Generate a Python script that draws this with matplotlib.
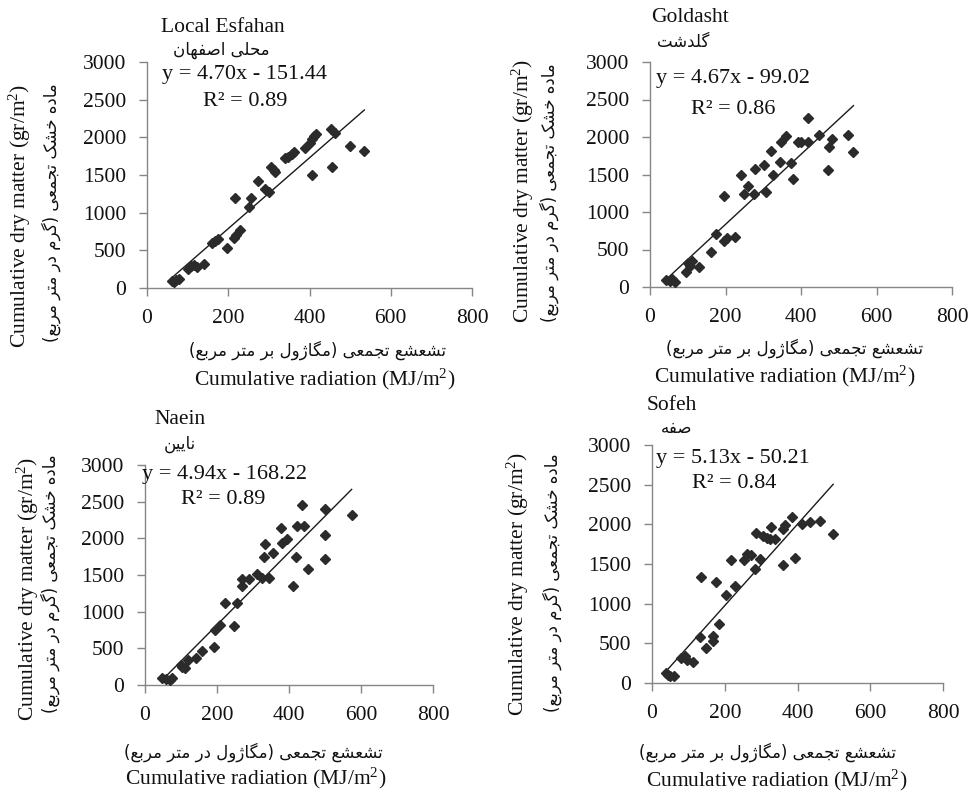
import matplotlib
matplotlib.use('Agg')
import matplotlib.pyplot as plt
import numpy as np

plt.rcParams['font.family'] = ['Liberation Serif', 'DejaVu Sans']
plt.rcParams['mathtext.fontset'] = 'custom'
plt.rcParams['mathtext.rm'] = 'Liberation Serif'
plt.rcParams['mathtext.it'] = 'Liberation Serif:italic'

# ---------------- data ----------------
titles_en = ["Local Esfahan", "Goldasht", "Naein", "Sofeh"]
titles_fa = ["محلی اصفهان", "گلدشت", "نایین", "صفه"]
ylabel_en = "Cumulative dry matter (gr/m$^{2}$)"
ylabel_fa = "ماده خشک تجمعی (گرم در متر مربع)"
xlabel_en = "Cumulative radiation (MJ/m$^{2}$)"
xlabel_fa = ["تشعشع تجمعی (مگاژول بر متر مربع)",
             "تشعشع تجمعی (مگاژول بر متر مربع)",
             "تشعشع تجمعی (مگاژول در متر مربع)",
             "تشعشع تجمعی (مگاژول بر متر مربع)"]

slopes = [4.70, 4.67, 4.94, 5.13]
intercepts = [-151.44, -99.02, -168.22, -50.21]
r2_values = [0.89, 0.86, 0.89, 0.84]

x_ticks = [0, 200, 400, 600, 800]
y_ticks = [0, 500, 1000, 1500, 2000, 2500, 3000]

x_esfahan = [62, 66, 72, 78, 100, 108, 115, 122, 140, 160, 168, 175, 196, 215, 220, 230,
             217, 250, 255, 272, 290, 300, 305, 312, 316, 340, 348, 356, 362, 390, 400,
             405, 410, 415, 405, 452, 462, 455, 500, 535]
y_esfahan = [90, 80, 105, 115, 250, 290, 300, 280, 325, 600, 620, 650, 530, 660, 700, 770,
             1200, 1080, 1200, 1420, 1310, 1280, 1610, 1570, 1540, 1720, 1740, 1780, 1800,
             1860, 1930, 1980, 2020, 2040, 1500, 2110, 2060, 1600, 1890, 1820]

x_goldasht = [42, 53, 66, 57, 95, 105, 112, 101, 130, 162, 175, 195, 204, 197, 224,
              241, 250, 259, 276, 277, 302, 307, 325, 320, 344, 347, 360, 373, 379, 393,
              399, 419, 418, 449, 474, 481, 472, 525, 539]
y_goldasht = [96, 79, 66, 110, 197, 285, 342, 316, 272, 461, 711, 614, 658, 1219, 671,
              1500, 1237, 1351, 1237, 1570, 1623, 1272, 1500, 1816, 1667, 1939, 2009, 1658,
              1439, 1930, 1930, 1930, 2259, 2026, 1864, 1974, 1557, 2026, 1798]

x_naein = [48, 59, 69, 74, 99, 104, 111, 120, 143, 159, 192, 194, 207, 222, 247, 256,
           269, 269, 289, 312, 326, 331, 333, 344, 356, 377, 380, 395, 412, 420, 423, 435,
           442, 453, 499, 499, 499, 574]
y_naein = [100, 86, 68, 100, 273, 241, 227, 341, 364, 468, 523, 750, 818, 1114, 809, 1123,
           1355, 1445, 1445, 1514, 1455, 1750, 1923, 1459, 1795, 2136, 1941, 1991, 1350,
           1750, 2168, 2455, 2168, 1586, 1714, 2041, 2395, 2318]

x_sofeh = [39, 49, 60, 44, 81, 90, 96, 113, 133, 136, 148, 168, 168, 177, 184, 203,
           217, 228, 253, 260, 273, 284, 287, 298, 304, 315, 324, 328, 338, 359, 359, 365,
           386, 393, 412, 434, 463, 498]
y_sofeh = [126, 92, 92, 101, 311, 336, 294, 261, 576, 1332, 437, 597, 534, 1269, 744, 1113,
           1546, 1223, 1546, 1630, 1609, 1441, 1887, 1563, 1857, 1828, 1819, 1966, 1819,
           1483, 1941, 1992, 2088, 1571, 2004, 2034, 2046, 1878]

series_x = [x_esfahan, x_goldasht, x_naein, x_sofeh]
series_y = [y_esfahan, y_goldasht, y_naein, y_sofeh]

# ---------------- minimal Persian shaping (presentation forms) ----------------
FORMS = {
    'ا': ('\uFE8D', '\uFE8E', None, None),
    'ب': ('\uFE8F', '\uFE90', '\uFE91', '\uFE92'),
    'ت': ('\uFE95', '\uFE96', '\uFE97', '\uFE98'),
    'ج': ('\uFE9D', '\uFE9E', '\uFE9F', '\uFEA0'),
    'ح': ('\uFEA1', '\uFEA2', '\uFEA3', '\uFEA4'),
    'خ': ('\uFEA5', '\uFEA6', '\uFEA7', '\uFEA8'),
    'د': ('\uFEA9', '\uFEAA', None, None),
    'ر': ('\uFEAD', '\uFEAE', None, None),
    'ز': ('\uFEAF', '\uFEB0', None, None),
    'ژ': ('\uFB8A', '\uFB8B', None, None),
    'ش': ('\uFEB5', '\uFEB6', '\uFEB7', '\uFEB8'),
    'ص': ('\uFEB9', '\uFEBA', '\uFEBB', '\uFEBC'),
    'ع': ('\uFEC9', '\uFECA', '\uFECB', '\uFECC'),
    'ف': ('\uFED1', '\uFED2', '\uFED3', '\uFED4'),
    'ل': ('\uFEDD', '\uFEDE', '\uFEDF', '\uFEE0'),
    'م': ('\uFEE1', '\uFEE2', '\uFEE3', '\uFEE4'),
    'ن': ('\uFEE5', '\uFEE6', '\uFEE7', '\uFEE8'),
    'ه': ('\uFEE9', '\uFEEA', '\uFEEB', '\uFEEC'),
    'و': ('\uFEED', '\uFEEE', None, None),
    'ی': ('\uFBFC', '\uFBFD', '\uFBFE', '\uFBFF'),
    'ک': ('\uFB8E', '\uFB8F', '\uFB90', '\uFB91'),
    'گ': ('\uFB92', '\uFB93', '\uFB94', '\uFB95'),
}


def shape(s):
    out = []
    n = len(s)
    for i, c in enumerate(s):
        if c not in FORMS:
            out.append(c)
            continue
        prev = s[i - 1] if i > 0 else None
        nxt = s[i + 1] if i < n - 1 else None
        jp = prev in FORMS and FORMS[prev][2] is not None
        jn = nxt in FORMS and FORMS[c][2] is not None
        iso, fin, ini, med = FORMS[c]
        if jp and jn:
            out.append(med)
        elif jp:
            out.append(fin)
        elif jn:
            out.append(ini)
        else:
            out.append(iso)
    mirror = {'(': ')', ')': '('}
    return ''.join(mirror.get(ch, ch) for ch in reversed(out))


# ---------------- layout ----------------
W, H = 969, 792
fig = plt.figure(figsize=(W / 100, H / 100), dpi=100)


def rect(l, r, t, b):
    return [l / W, 1 - b / H, (r - l) / W, (b - t) / H]


def P(x, y):
    return x / W, 1 - y / H


layout = [
    dict(ax=(147, 472, 62, 288), title=(223, 27), title_fa=(221, 50), eq=(245, 75), r2=(245, 101),
         yl=(20, 216), yl_fa=(51, 213), xl_fa=(318, 350), xl=(325, 379)),
    dict(ax=(650, 952, 62, 287), title=(690, 18), title_fa=(683, 42), eq=(733, 79), r2=(733, 110),
         yl=(523, 191), yl_fa=(549, 193), xl_fa=(795, 348), xl=(785, 376)),
    dict(ax=(145, 433, 465, 685), title=(180, 419), title_fa=(180, 444), eq=(224, 475), r2=(223, 500),
         yl=(28, 589), yl_fa=(50, 584), xl_fa=(253, 752), xl=(256, 778)),
    dict(ax=(652, 943, 445, 683), title=(672, 405), title_fa=(677, 428), eq=(733, 458), r2=(734, 483),
         yl=(518, 584), yl_fa=(552, 583), xl_fa=(768, 752), xl=(777, 780)),
]

FS = 15.5
FA_FS = 12
AX_COLOR = '#868686'
MK_COLOR = '#2b2b2b'

for i, L in enumerate(layout):
    ax = fig.add_axes(rect(*L['ax']))
    x = np.array(series_x[i], dtype=float)
    y = np.array(series_y[i], dtype=float)
    ax.plot(x, y, linestyle='none', marker='D', ms=5.6, color=MK_COLOR, mec=MK_COLOR, zorder=3)
    xs = np.array([x.min(), x.max()])
    ax.plot(xs, slopes[i] * xs + intercepts[i], color='#1a1a1a', lw=1.0, zorder=2)

    ax.set_xlim(0, 800)
    ax.set_ylim(0, 3000)
    ax.set_xticks(x_ticks)
    ax.set_yticks(y_ticks)
    for s in ['top', 'right']:
        ax.spines[s].set_visible(False)
    for s in ['left', 'bottom']:
        ax.spines[s].set_color(AX_COLOR)
        ax.spines[s].set_linewidth(1.0)
    ax.tick_params(axis='both', direction='out', length=6, width=1.0, color=AX_COLOR,
                   labelsize=FS, labelcolor='#111111')
    ax.tick_params(axis='y', pad=9)
    ax.tick_params(axis='x', pad=9)
    ax.patch.set_alpha(0)

    sign = '-' if intercepts[i] < 0 else '+'
    eq = f"y = {slopes[i]:.2f}x {sign} {abs(intercepts[i]):.2f}"
    fig.text(*P(*L['eq']), eq, ha='center', va='center', fontsize=16, color='#111111')
    fig.text(*P(*L['r2']), f"R² = {r2_values[i]:.2f}", ha='center', va='center', fontsize=16,
             color='#111111')

    fig.text(*P(*L['title']), titles_en[i], ha='center', va='center', fontsize=FS, color='#111111')
    fig.text(*P(*L['title_fa']), shape(titles_fa[i]), ha='center', va='center', fontsize=FA_FS,
             color='#111111', family=['DejaVu Sans'])

    fig.text(*P(*L['yl']), ylabel_en, ha='center', va='center', rotation=90, fontsize=FS,
             color='#111111')
    fig.text(*P(*L['yl_fa']), shape(ylabel_fa), ha='center', va='center', rotation=90,
             fontsize=FA_FS, color='#111111', family=['DejaVu Sans'])
    fig.text(*P(*L['xl_fa']), shape(xlabel_fa[i]), ha='center', va='center', fontsize=FA_FS,
             color='#111111', family=['DejaVu Sans'])
    fig.text(*P(*L['xl']), xlabel_en, ha='center', va='center', fontsize=FS, color='#111111')

fig.savefig('out.png', dpi=100, facecolor='white')
